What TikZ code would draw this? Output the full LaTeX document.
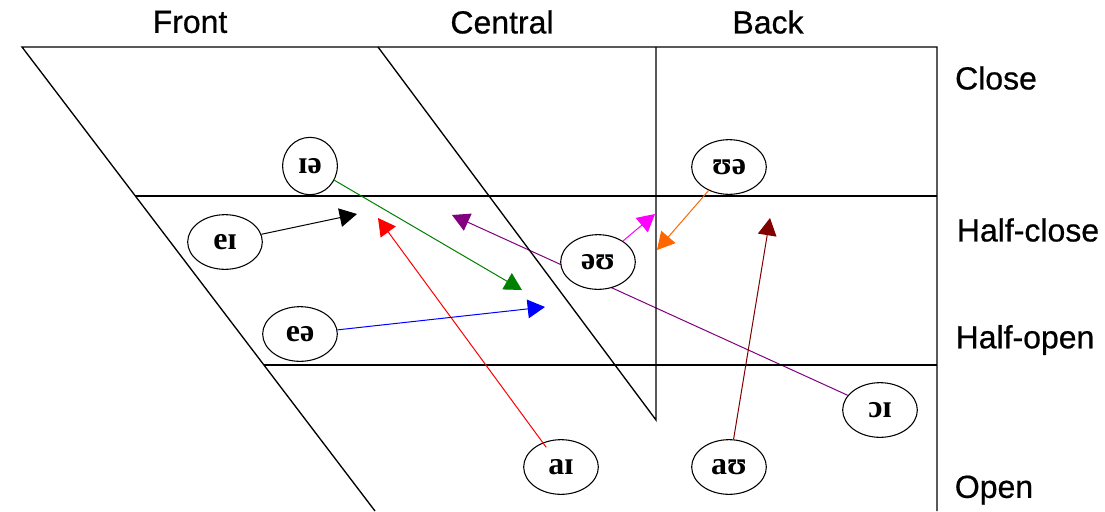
\documentclass[tikz,border=0pt]{standalone}
\usepackage{fontspec}
\setmainfont{Liberation Serif}
\newfontfamily\labfont[FakeBold=0.6]{Liberation Sans}
\usetikzlibrary{shapes.geometric,arrows.meta,backgrounds}
\definecolor{dgreen}{RGB}{0,128,0}
\definecolor{dpurple}{RGB}{128,0,128}
\definecolor{dmagenta}{RGB}{255,0,255}
\definecolor{dorange}{RGB}{255,102,0}
\definecolor{dmaroon}{RGB}{128,0,0}
\begin{document}
\begin{tikzpicture}[x=0.75pt,y=-0.75pt,
  frame/.style={line width=1pt, black},
  vowel/.style={draw, ellipse, fill=white, line width=0.8pt, inner sep=0pt,
    minimum width=56pt, minimum height=41pt, font=\bfseries\fontsize{24}{24}\selectfont},
  lab/.style={font=\labfont\fontsize{24}{24}\selectfont, inner sep=0pt},
  glide/.style={line width=0.75pt, -{Triangle[length=13pt,width=14pt]}}
]
\useasboundingbox (0,0) rectangle (1105,511);
% frame
\coordinate (TL) at (22,47);
\coordinate (TR) at (937,47);
\coordinate (BR) at (937,511);
\coordinate (FB) at (375,511);
\coordinate (CT) at (378,47);
\coordinate (CB) at (656,420);
\coordinate (VT) at (656,47);
\coordinate (HCL) at (135,196);
\coordinate (HCR) at (937,196);
\coordinate (HOL) at (264,365);
\coordinate (HOR) at (937,365);
\draw[frame] (FB) -- (TL) -- (TR) -- (BR);
\draw[frame] (CT) -- (CB) -- (VT);
\draw[frame] (HCL) -- (HCR);
\draw[frame] (HOL) -- (HOR);
% labels
\node[lab] (front) at (190,22) {Front};
\node[lab] (central) at (502,22) {Central};
\node[lab] (back) at (768,22) {Back};
\node[lab] (close) at (996,78) {Close};
\node[lab] (halfclose) at (1028,230) {Half-close};
\node[lab] (halfopen) at (1025,340) {Half-open};
\node[lab] (open) at (994,490) {Open};
% vowels
\node[vowel, minimum width=41pt, minimum height=43pt] (ia) at (310,166) {ɪə};
\node[vowel] (ei) at (225,242) {eɪ};
\node[vowel] (ua) at (729,167) {ʊə};
\node[vowel] (au2) at (598,262) {əʊ};
\node[vowel] (ea) at (300,334) {eə};
\node[vowel] (ai) at (561,467) {aɪ};
\node[vowel] (au) at (729,467) {aʊ};
\node[vowel] (oi) at (880,410) {ɔɪ};
% tips
\coordinate (tblack) at (357,214);
\coordinate (tred) at (378,218);
\coordinate (tpurple) at (452,215);
\coordinate (tmagenta) at (655,214);
\coordinate (torange) at (657,250);
\coordinate (tmaroon) at (770,218);
\coordinate (tblue) at (545,307);
\coordinate (tgreen) at (522,290);
\begin{pgfonlayer}{background}
\draw[glide, dpurple] (oi) -- (tpurple);
\end{pgfonlayer}
\draw[glide, black] (ei) -- (tblack);
\draw[glide, red] (ai.north west) ++(12,0) -- (tred);
\draw[glide, dgreen] (ia) -- (tgreen);
\draw[glide, dmagenta] (au2) -- (tmagenta);
\draw[glide, dorange] (ua) -- (torange);
\draw[glide, dmaroon] (au) -- (tmaroon);
\draw[glide, blue] (ea) -- (tblue);
\end{tikzpicture}
\end{document}
